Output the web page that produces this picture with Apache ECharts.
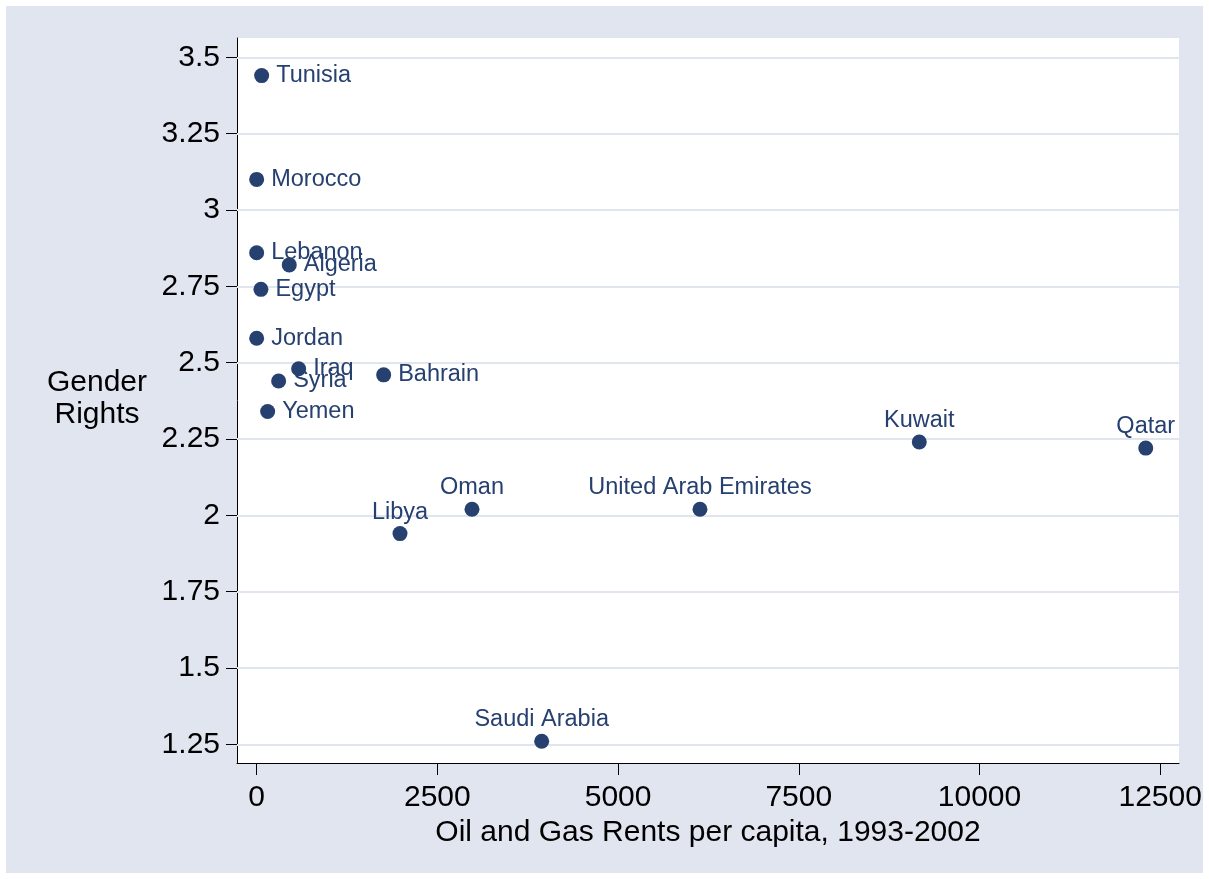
<!DOCTYPE html>
<html>
<head>
<meta charset="utf-8">
<script src="https://cdn.jsdelivr.net/npm/echarts@6/dist/echarts.min.js"></script>
<style>
  html, body { margin: 0; padding: 0; background: #ffffff; }
  #chart { width: 1209px; height: 879px; }
</style>
</head>
<body>
<div id="chart"></div>
<script>
// ---- data ----
const countries = ['Tunisia', 'Morocco', 'Lebanon', 'Algeria', 'Egypt', 'Jordan', 'Iraq', 'Syria', 'Bahrain', 'Yemen',
                   'Kuwait', 'Qatar', 'Oman', 'United Arab Emirates', 'Libya', 'Saudi Arabia'];
const oilGasRents = [69, 0, 0, 451, 59, 0, 581, 304, 1757, 152,
                     9167, 12300, 2979, 6133, 1983, 3943];
const genderRights = [3.44, 3.10, 2.86, 2.82, 2.74, 2.58, 2.48, 2.44, 2.46, 2.34,
                      2.24, 2.22, 2.02, 2.02, 1.94, 1.26];
const xTicks = [0, 2500, 5000, 7500, 10000, 12500];
const yTicks = [1.25, 1.5, 1.75, 2, 2.25, 2.5, 2.75, 3, 3.25, 3.5];
const xTitle = 'Oil and Gas Rents per capita, 1993-2002';
const yTitle = 'Gender\nRights';

// labels drawn above the marker instead of to its right
const labelAbove = ['Kuwait', 'Qatar', 'Oman', 'United Arab Emirates', 'Libya', 'Saudi Arabia'];

const NAVY = '#26406f';
const BG = '#e0e5ef';
const FONT = '"Liberation Sans", Arial, Helvetica, sans-serif';

const points = countries.map((c, i) => ({
  name: c,
  value: [oilGasRents[i], genderRights[i]],
  label: labelAbove.includes(c)
    ? { position: 'top', distance: 2 }
    : { position: 'right', distance: 7 }
}));

const chart = echarts.init(document.getElementById('chart'), null, { renderer: 'canvas' });
chart.setOption({
  backgroundColor: '#ffffff',
  animation: false,
  graphic: [
    { type: 'rect', z: -10, silent: true, shape: { x: 6, y: 6, width: 1197, height: 867 }, style: { fill: BG } },
    { type: 'text', z: 10, silent: true, x: 97, y: 399,
      style: { text: yTitle, font: '30px ' + FONT, fill: '#000', align: 'center', verticalAlign: 'middle', lineHeight: 32 } }
  ],
  grid: {
    left: 237, top: 38, right: 30, bottom: 116,
    show: true, backgroundColor: '#ffffff', borderWidth: 0,
    containLabel: false
  },
  xAxis: {
    type: 'value',
    min: -272, max: 12760,
    name: xTitle, nameLocation: 'middle', nameGap: 53,
    nameTextStyle: { fontFamily: FONT, fontSize: 30, color: '#000' },
    axisLine: { show: true, onZero: false, lineStyle: { color: '#000', width: 1 } },
    axisTick: { show: true, length: 12, customValues: xTicks, lineStyle: { color: '#000', width: 1 } },
    axisLabel: { customValues: xTicks, formatter: v => String(v), fontFamily: FONT, fontSize: 30, color: '#000', margin: 20 },
    splitLine: { show: false }
  },
  yAxis: {
    type: 'value',
    min: 1.1887, max: 3.5632,
    axisLine: { show: true, onZero: false, lineStyle: { color: '#000', width: 1 } },
    axisTick: { show: true, length: 11, customValues: yTicks, lineStyle: { color: '#000', width: 1 } },
    axisLabel: { customValues: yTicks, formatter: v => String(v), fontFamily: FONT, fontSize: 30, color: '#000', margin: 17 },
    splitLine: { show: false }
  },
  series: [
    {
      type: 'scatter',
      z: 1,
      data: [],
      silent: true,
      markLine: {
        silent: true,
        symbol: 'none',
        label: { show: false },
        lineStyle: { color: BG, width: 2, type: 'solid' },
        data: yTicks.map(v => ({ yAxis: v }))
      }
    },
    {
      type: 'scatter',
      z: 5,
      symbol: 'circle',
      symbolSize: 15,
      clip: false,
      itemStyle: { color: NAVY, opacity: 1 },
      label: {
        show: true,
        formatter: p => p.name,
        fontFamily: FONT,
        fontSize: 23.5,
        color: NAVY
      },
      labelLayout: { hideOverlap: false },
      data: points
    }
  ]
});
</script>
</body>
</html>
